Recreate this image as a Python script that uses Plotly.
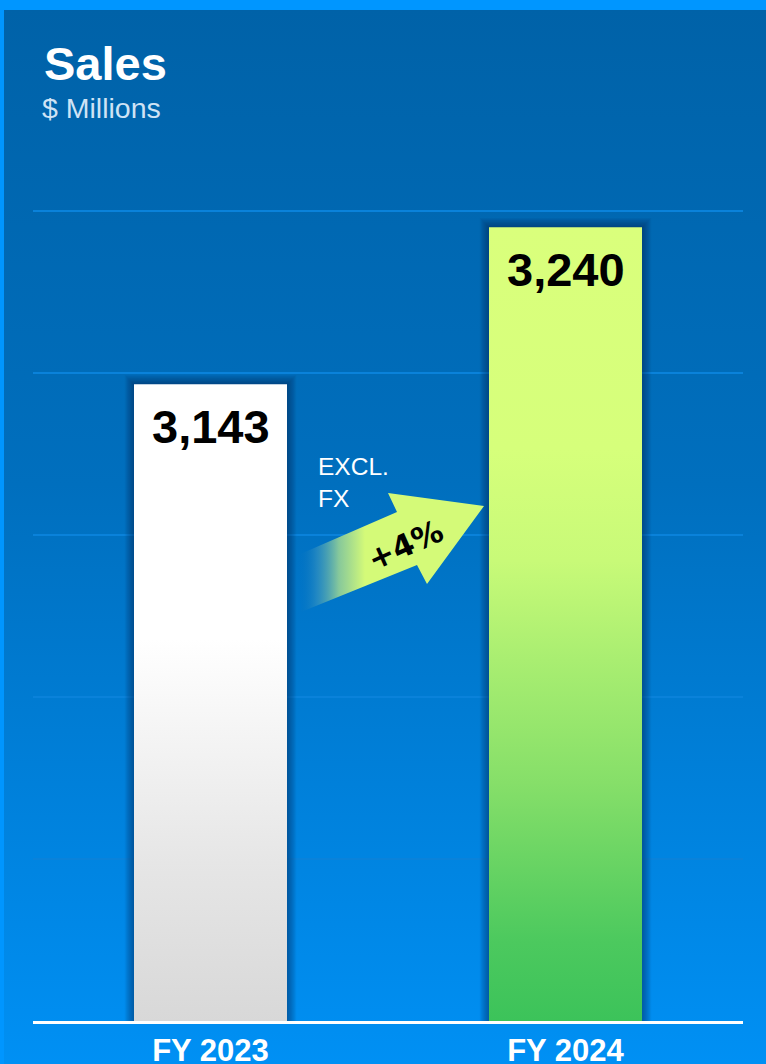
import base64
import plotly.graph_objects as go

# ---- data ----
categories = ["FY 2023", "FY 2024"]
sales = [3143, 3240]
value_labels = ["3,143", "3,240"]
grid_vals = [2850, 2950, 3050, 3150, 3250]
change_label = "+4%"
change_note = "EXCL.<br>FX"
title_text = "Sales"
subtitle_text = "$ Millions"

# ---- geometry ----
W, H = 766, 1064
ML, MR, MT, MB = 33, 23, 146, 43
PW, PH = W - ML - MR, H - MT - MB
Y0 = 2750
PX_PER_UNIT = 1.62
Y1 = Y0 + PH / PX_PER_UNIT
BAR_HALF = 0.2155
px_x = 2.0 / PW          # data units per px in x
px_y = 1.0 / PX_PER_UNIT  # data units per px in y


def paper_x(px):
    return (px - ML) / PW


def paper_y(py):
    return (H - MB - py) / PH


svg = f"""<svg xmlns='http://www.w3.org/2000/svg' width='{W}' height='{H}' viewBox='0 0 {W} {H}' preserveAspectRatio='none'>
<defs><linearGradient id='g' x1='0' y1='0' x2='0' y2='1'>
<stop offset='0' stop-color='#0062A8'/><stop offset='0.45' stop-color='#006FBE'/><stop offset='1' stop-color='#0090F4'/>
</linearGradient></defs>
<rect width='{W}' height='{H}' fill='#0096FF'/>
<rect x='4' y='10' width='{W-4}' height='{H-10}' fill='url(#g)'/>
</svg>"""
bg_src = "data:image/svg+xml;base64," + base64.b64encode(svg.encode()).decode()

fig = go.Figure()

# bar shadows
for i, v in enumerate(sales):
    for k in range(1, 9):
        pad = k * 1.15
        x0, x1 = i - BAR_HALF - pad * px_x, i + BAR_HALF + pad * px_x
        top = v + pad * px_y
        fig.add_trace(go.Scatter(
            x=[x0, x1, x1, x0, x0], y=[Y0, Y0, top, top, Y0],
            fill="toself", mode="lines", line=dict(width=0),
            fillcolor="rgba(0,20,60,0.055)", hoverinfo="skip", showlegend=False))

bar_scales = [
    [[0, "#D8D8D8"], [0.25, "#E6E6E6"], [0.6, "#FFFFFF"], [1, "#FFFFFF"]],
    [[0, "#3CC35A"], [0.1, "#4CC95E"], [0.3, "#86DF69"], [0.455, "#A9EE71"],
     [0.58, "#C8FA78"], [0.72, "#D6FF7B"], [1, "#DAFF7C"]],
]
for i, v in enumerate(sales):
    x0, x1 = i - BAR_HALF, i + BAR_HALF
    fig.add_trace(go.Scatter(
        x=[x0, x1, x1, x0, x0], y=[Y0, Y0, v, v, Y0],
        fill="toself", mode="lines", line=dict(width=0),
        fillgradient=dict(type="vertical", colorscale=bar_scales[i], start=Y0, stop=v),
        name=categories[i], hoverinfo="name+text", text=[value_labels[i]] * 5,
        showlegend=False))

# growth arrow (decoration, on an overlay pixel axis)
ax_x = [298, 397, 388, 484, 427, 417, 301, 298]
ax_y = [555, 512, 493, 506, 584, 565, 612, 555]
fig.add_trace(go.Scatter(
    x=ax_x, y=ax_y, xaxis="x2", yaxis="y2",
    fill="toself", mode="lines", line=dict(width=0),
    fillgradient=dict(type="horizontal", start=298, stop=484,
                      colorscale=[[0, "rgba(0,110,190,0)"], [0.1, "rgba(60,150,190,0.55)"],
                                  [0.22, "rgba(150,210,150,0.9)"], [0.36, "#D4FA78"], [1, "#D4FA78"]]),
    hoverinfo="skip", showlegend=False))

annotations = []
for i, v in enumerate(sales):
    annotations.append(dict(
        x=i, y=v, xref="x", yref="y", text=f"<b>{value_labels[i]}</b>", showarrow=False,
        yanchor="middle", yshift=-42, font=dict(family="Liberation Sans", size=47, color="#000000")))

annotations += [
    dict(x=paper_x(42), y=paper_y(63), xref="paper", yref="paper", xanchor="left", yanchor="middle",
         text=f"<b>{title_text}</b>", showarrow=False,
         font=dict(family="Liberation Sans", size=47, color="#FFFFFF")),
    dict(x=paper_x(40), y=paper_y(108), xref="paper", yref="paper", xanchor="left", yanchor="middle",
         text=subtitle_text, showarrow=False,
         font=dict(family="Liberation Sans", size=28.5, color="#CFE3F5")),
    dict(x=paper_x(316), y=paper_y(482), xref="paper", yref="paper", xanchor="left", yanchor="middle",
         text=change_note, showarrow=False, align="left",
         font=dict(family="Liberation Sans", size=24.5, color="#FFFFFF")),
    dict(x=paper_x(405), y=paper_y(545), xref="paper", yref="paper", xanchor="center", yanchor="middle",
         text=f"<b>{change_label}</b>", showarrow=False, textangle=-24,
         font=dict(family="DejaVu Sans", size=31, color="#000000")),
]

fig.update_layout(
    width=W, height=H, template="none",
    margin=dict(l=ML, r=MR, t=MT, b=MB, pad=0),
    paper_bgcolor="#0096FF", plot_bgcolor="rgba(0,0,0,0)",
    showlegend=False,
    images=[dict(source=bg_src, xref="paper", yref="paper",
                 x=paper_x(0), y=paper_y(0), sizex=W / PW, sizey=H / PH,
                 xanchor="left", yanchor="top", sizing="stretch", layer="below")],
    xaxis=dict(range=[-0.5, 1.5], tickvals=[0, 1], ticktext=categories,
               showgrid=False, zeroline=False, showline=True, linecolor="#FFFFFF", linewidth=3,
               ticks="", automargin=False, fixedrange=True,
               tickfont=dict(family="Liberation Sans", size=31, color="#FFFFFF", weight="bold")),
    yaxis=dict(range=[Y0, Y1], tickvals=grid_vals, showticklabels=False,
               showgrid=True, gridcolor="#0A82DA", gridwidth=2, zeroline=False,
               showline=False, ticks="", automargin=False, fixedrange=True),
    xaxis2=dict(range=[ML, W - MR], overlaying="x", visible=False, fixedrange=True),
    yaxis2=dict(range=[H - MB, MT], overlaying="y", visible=False, fixedrange=True),
    annotations=annotations,
)

fig.write_html("out.html", config={"displayModeBar": False},
               post_script="document.body.style.margin='0';document.body.style.padding='0';")
